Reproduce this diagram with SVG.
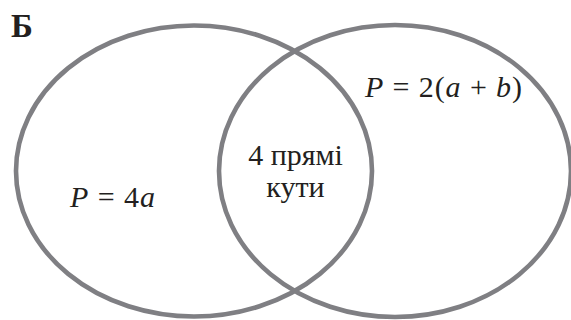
<svg xmlns="http://www.w3.org/2000/svg" width="571" height="320" viewBox="0 0 571 320">
<style>
.set{fill:none;stroke:#7f7f83;stroke-width:4.6}
.t{font-size:30px;fill:#231f20}
.i{font-style:italic}
.b{font-size:33px;font-weight:bold;fill:#231f20}
</style>
<rect width="571" height="320" fill="#fff"/>
<text class="b" x="11" y="37" font-family="Liberation Serif">Б</text>
<g id="set-square">
<ellipse class="set" cx="194" cy="171" rx="178" ry="145.5"/>
<text class="t" x="70" y="207" textLength="85" lengthAdjust="spacing" font-family="Liberation Serif"><tspan class="i">P</tspan> = 4<tspan class="i">a</tspan></text>
</g>
<g id="set-rectangle">
<ellipse class="set" cx="395" cy="171" rx="176" ry="146"/>
<text class="t" x="365" y="97" textLength="157" lengthAdjust="spacing" font-family="Liberation Serif"><tspan class="i">P</tspan> = 2(<tspan class="i">a</tspan> + <tspan class="i">b</tspan>)</text>
</g>
<g id="intersection">
<text class="t" x="295.5" y="165" text-anchor="middle" font-family="Liberation Serif">4 прямі</text>
<text class="t" x="295.5" y="197" text-anchor="middle" font-family="Liberation Serif">кути</text>
</g>
<g id="connectors"></g>
</svg>
